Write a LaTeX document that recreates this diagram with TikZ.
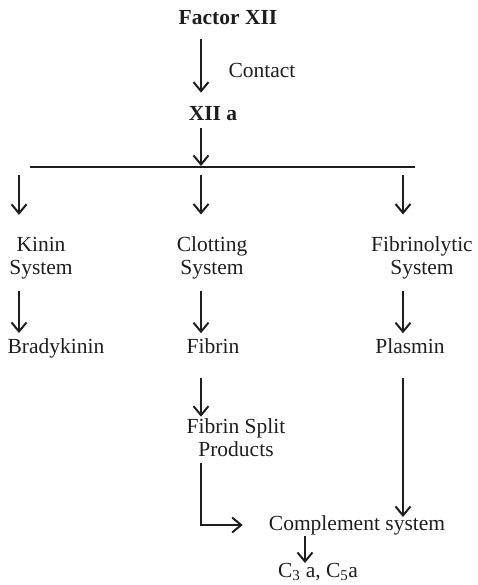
\documentclass[tikz,border=0pt]{standalone}
\usepackage{fontspec}
\setmainfont{Liberation Serif}
\usepackage{tikz}
\usetikzlibrary{arrows.meta}
\definecolor{ink}{HTML}{1E1E1E}

\begin{document}
\begin{tikzpicture}[x=1pt,y=-1pt,
		lbl/.style={inner sep=0pt,text=ink,font=\fontsize{21.5}{23}\selectfont,align=center},
		arr/.style={draw=ink,line width=2.2pt,-{Straight Barb[length=9pt,width=15pt,line width=2pt]}}]
				\useasboundingbox (0,0) rectangle (477,585);
				% Spalten der Pfeile
				\coordinate (colA) at (19,167);
				\coordinate (colB) at (201,167);
				\coordinate (colC) at (403,167);
				\coordinate (colD) at (305,545);
				\coordinate (lineL) at (30,167);
				\coordinate (lineR) at (415,167);
				\node[lbl,font=\fontsize{21.5}{23}\selectfont\bfseries] (factor) at (228,18) {Factor XII};
				\node[lbl] (contact) at (262,70) {Contact};
				\node[lbl,font=\fontsize{21.5}{23}\selectfont\bfseries] (xiia) at (213,114) {XII a};
				\node[lbl] (kinin) at (41,258) {Kinin\\System};
				\node[lbl] (clotting) at (212,258) {Clotting\\System};
				\node[lbl] (fibrino) at (422,258) {Fibrinolytic\\System};
				\node[lbl] (brady) at (56,348) {Bradykinin};
				\node[lbl] (fibrin) at (213,346) {Fibrin};
				\node[lbl] (plasmin) at (410,346) {Plasmin};
				\node[lbl] (fsp) at (236,438) {Fibrin Split\\Products};
				\node[lbl] (compl) at (357,525) {Complement system};
				\node[lbl] (cthree) at (318,572) {C\textsubscript{3} a, C\textsubscript{5}a};
				% Faktor XII -> XII a -> Verzweigung
				\draw[arr,shorten <=14pt,shorten >=14pt] (factor.south -| colB) -- (xiia.north -| colB);
				\draw[arr,shorten <=7pt,shorten >=1pt] (xiia.south -| colB) -- (colB);
				\draw[draw=ink,line width=1.5pt] (lineL) -- (lineR);
				\draw[arr,shorten <=8pt,shorten >=22pt] (colA) -- (kinin.north -| colA);
				\draw[arr,shorten <=8pt,shorten >=22pt] (colB) -- (clotting.north -| colB);
				\draw[arr,shorten <=8pt,shorten >=22pt] (colC) -- (fibrino.north -| colC);
				% zweite Reihe
				\draw[arr,shorten <=12pt,shorten >=5pt] (kinin.south -| colA) -- (brady.north -| colA);
				\draw[arr,shorten <=12pt,shorten >=5pt] (clotting.south -| colB) -- (fibrin.north -| colB);
				\draw[arr,shorten <=12pt,shorten >=5pt] (fibrino.south -| colC) -- (plasmin.north -| colC);
				% Fibrin -> Spaltprodukte -> Komplement
				\draw[arr,shorten <=24pt,shorten >=2pt] (fibrin.south -| colB) -- (fsp.north -| colB);
				\draw[arr,shorten <=6pt,shorten >=26pt] (fsp.south -| colB) |- (compl.west);
				\draw[arr,shorten <=24pt,shorten >=-2pt] (plasmin.south -| colC) -- (compl.north -| colC);
				\draw[arr,shorten <=1pt,shorten >=0pt] (compl.south -| colD) -- (cthree.north -| colD);
			\end{tikzpicture}
\end{document}
